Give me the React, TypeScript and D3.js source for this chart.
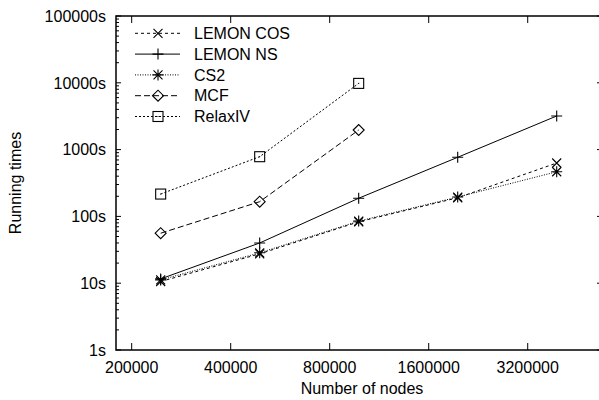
import React from "react";
import * as d3 from "d3";

const nodes = [245000, 490000, 980000, 1960000, 3920000];
const lemonCos = [10.6, 27.5, 83, 190, 630];
const lemonNs = [11.6, 40, 187, 767, 3185];
const cs2 = [11.2, 28.5, 85, 195, 466];
const mcf = [56, 166, 1965];
const relaxIV = [216, 783, 9800];

const xTicks = [200000, 400000, 800000, 1600000, 3200000];
const yTicks = [1, 10, 100, 1000, 10000, 100000];

type Marker = "x" | "plus" | "star" | "diamond" | "square";
const series: { name: string; values: number[]; dash: string; marker: Marker }[] = [
  { name: "LEMON COS", values: lemonCos, dash: "3,3", marker: "x" },
  { name: "LEMON NS", values: lemonNs, dash: "none", marker: "plus" },
  { name: "CS2", values: cs2, dash: "1,1.5", marker: "star" },
  { name: "MCF", values: mcf, dash: "6,3", marker: "diamond" },
  { name: "RelaxIV", values: relaxIV, dash: "2,2", marker: "square" },
];

const L = 116, R = 602, T = 16, B = 350;
const FONT = "'Liberation Sans', Arial, sans-serif";

function MarkerShape({ type, cx, cy }: { type: Marker; cx: number; cy: number }) {
  const s = 4.5;
  const st = { stroke: "#000", strokeWidth: 1.1, fill: "none" };
  if (type === "x")
    return <path d={`M${cx - s},${cy - s}L${cx + s},${cy + s}M${cx - s},${cy + s}L${cx + s},${cy - s}`} {...st} />;
  if (type === "plus")
    return <path d={`M${cx - 5.5},${cy}L${cx + 5.5},${cy}M${cx},${cy - 5.5}L${cx},${cy + 5.5}`} {...st} />;
  if (type === "star")
    return (
      <path
        d={`M${cx - s},${cy - s}L${cx + s},${cy + s}M${cx - s},${cy + s}L${cx + s},${cy - s}M${cx - 5.5},${cy}L${cx + 5.5},${cy}M${cx},${cy - 5.5}L${cx},${cy + 5.5}`}
        {...st}
      />
    );
  if (type === "diamond")
    return <path d={`M${cx - 5.5},${cy}L${cx},${cy - 5.5}L${cx + 5.5},${cy}L${cx},${cy + 5.5}Z`} {...st} />;
  return (
    <g>
      <rect x={cx - 5} y={cy - 5} width={10} height={10} {...st} />
      <rect x={cx - 0.5} y={cy - 0.5} width={1} height={1} fill="#000" />
    </g>
  );
}

export default function App() {
  const x = d3.scaleLog().base(2).domain([179200, 5383000]).range([L, R]);
  const y = d3.scaleLog().domain([1, 100000]).range([B, T]);
  const line = d3
    .line<[number, number]>()
    .x((d) => x(d[0]))
    .y((d) => y(d[1]));

  const minor: number[] = [];
  for (let d = 1; d < 100000; d *= 10) for (let k = 2; k <= 9; k++) minor.push(d * k);

  return (
    <svg width={599} height={400} style={{ position: "absolute", left: 0, top: 0, background: "#fff" }}>
      <rect x={0} y={0} width={599} height={400} fill="#fff" />
      {minor.map((v) => (
        <line key={"m" + v} x1={L} x2={L + 3} y1={y(v)} y2={y(v)} stroke="#000" strokeWidth={1} />
      ))}
      {yTicks.map((v) => (
        <g key={"y" + v}>
          <line x1={L} x2={L + 5} y1={y(v)} y2={y(v)} stroke="#000" strokeWidth={1} />
          <line x1={R} x2={R - 5} y1={y(v)} y2={y(v)} stroke="#000" strokeWidth={1} />
          <text x={106} y={y(v)} dy="0.36em" textAnchor="end" fontFamily={FONT} fontSize={16}>
            {v + "s"}
          </text>
        </g>
      ))}
      {xTicks.map((v) => (
        <g key={"x" + v}>
          <line x1={x(v)} x2={x(v)} y1={B} y2={B - 7} stroke="#000" strokeWidth={1} />
          <line x1={x(v)} x2={x(v)} y1={T} y2={T + 7} stroke="#000" strokeWidth={1} />
          <text x={x(v)} y={373} textAnchor="middle" fontFamily={FONT} fontSize={16}>
            {v}
          </text>
        </g>
      ))}
      <rect x={L} y={T} width={R - L} height={B - T} fill="none" stroke="#000" strokeWidth={1.5} />
      {series.map((s) => {
        const pts = s.values.map((v, i) => [nodes[i], v] as [number, number]);
        return (
          <g key={s.name}>
            <path d={line(pts) || ""} fill="none" stroke="#000" strokeWidth={1} strokeDasharray={s.dash} />
            {pts.map((p, i) => (
              <MarkerShape key={i} type={s.marker} cx={x(p[0])} cy={y(p[1])} />
            ))}
          </g>
        );
      })}
      {series.map((s, i) => {
        const ly = 33.3 + i * 20.8;
        return (
          <g key={"l" + s.name}>
            <line x1={135} x2={180} y1={ly} y2={ly} stroke="#000" strokeWidth={1} strokeDasharray={s.dash} />
            <MarkerShape type={s.marker} cx={158} cy={ly} />
            <text x={194} y={ly} dy="0.36em" fontFamily={FONT} fontSize={16}>
              {s.name}
            </text>
          </g>
        );
      })}
      <text
        transform={`translate(21,${(T + B) / 2}) rotate(-90)`}
        textAnchor="middle"
        fontFamily={FONT}
        fontSize={16}
      >
        Running times
      </text>
      <text x={(L + R) / 2 + 3} y={394} textAnchor="middle" fontFamily={FONT} fontSize={16}>
        Number of nodes
      </text>
    </svg>
  );
}
